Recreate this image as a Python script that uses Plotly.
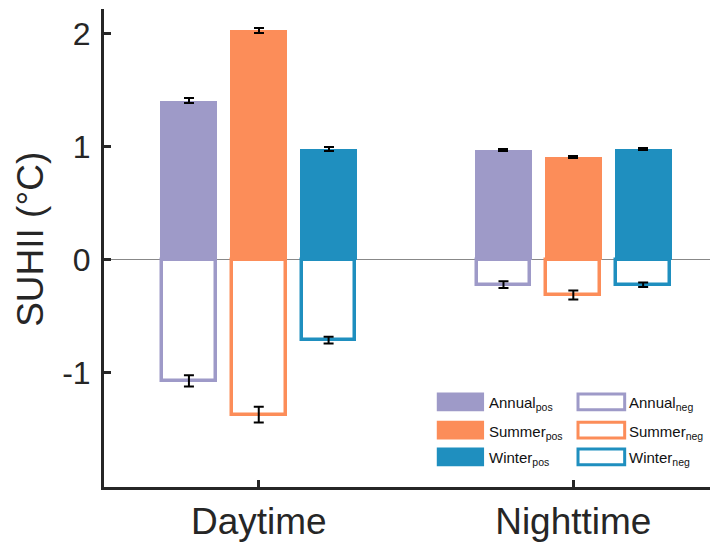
import plotly.graph_objects as go

groups = ["Daytime", "Nighttime"]
seasons = ["Annual", "Summer", "Winter"]
colors = ["#9E9AC8", "#FC8D59", "#1F8FBF"]
y_ticks = [-1, 0, 1, 2]
y_tick_text = ["-1", "0", "1", "2"]

pos_vals = {"Annual": [1.41, 0.97], "Summer": [2.03, 0.91], "Winter": [0.98, 0.98]}
pos_err = {"Annual": [0.02, 0.01], "Summer": [0.02, 0.01], "Winter": [0.02, 0.01]}
neg_vals = {"Annual": [-1.07, -0.22], "Summer": [-1.37, -0.31], "Winter": [-0.71, -0.22]}
neg_err = {"Annual": [0.05, 0.03], "Summer": [0.07, 0.04], "Winter": [0.03, 0.02]}

group_x = [1, 2]
offsets = [-0.222, 0.0, 0.222]
bar_w = 0.181
axis_col = "#262626"
FONT = "Liberation Sans, Arial, sans-serif"

fig = go.Figure()
for s, c, off in zip(seasons, colors, offsets):
    xs = [g + off for g in group_x]
    fig.add_trace(go.Bar(
        x=xs, y=neg_vals[s], width=bar_w - 0.01,
        marker=dict(color="white", line=dict(color=c, width=3.5)),
        error_y=dict(type="data", array=neg_err[s], color="black", thickness=2, width=5),
        name=s + " neg", showlegend=False))
for s, c, off in zip(seasons, colors, offsets):
    xs = [g + off for g in group_x]
    fig.add_trace(go.Bar(
        x=xs, y=pos_vals[s], width=bar_w,
        marker=dict(color=c, line=dict(width=0)),
        error_y=dict(type="data", array=pos_err[s], color="black", thickness=2, width=5),
        name=s + " pos", showlegend=False))

# manual legend (paper coordinates)
leg_rows = [0.178, 0.119, 0.063]
for i, (s, c) in enumerate(zip(seasons, colors)):
    yc = leg_rows[i]
    h = 0.039
    fig.add_shape(type="rect", xref="paper", yref="paper",
                  x0=0.542, x1=0.619, y0=yc - h / 2, y1=yc + h / 2,
                  fillcolor=c, line=dict(width=0))
    fig.add_shape(type="rect", xref="paper", yref="paper",
                  x0=0.772, x1=0.848, y0=yc - h / 2 + 0.003, y1=yc + h / 2 - 0.003,
                  fillcolor="white", line=dict(color=c, width=3))
    fig.add_annotation(xref="paper", yref="paper", x=0.623, y=yc - 0.004,
                       xanchor="left", yanchor="middle", showarrow=False,
                       text=s + "<sub>pos</sub>", font=dict(size=15, color="#111", family=FONT))
    fig.add_annotation(xref="paper", yref="paper", x=0.852, y=yc - 0.004,
                       xanchor="left", yanchor="middle", showarrow=False,
                       text=s + "<sub>neg</sub>", font=dict(size=15, color="#111", family=FONT))

# y-axis title as annotation
fig.add_annotation(xref="paper", yref="paper", x=-0.119, y=0.519,
                   xanchor="center", yanchor="middle", showarrow=False, textangle=-90,
                   text="SUHII (°C)", font=dict(size=37, color=axis_col, family=FONT))

fig.update_layout(
    width=710, height=537,
    margin=dict(l=96, r=0, t=1, b=58),
    paper_bgcolor="white", plot_bgcolor="white",
    barmode="overlay", bargap=0,
    font=dict(family=FONT, color=axis_col),
    xaxis=dict(range=[0.508, 2.46], tickvals=group_x, ticktext=groups,
               showline=True, linecolor=axis_col, linewidth=3,
               ticks="inside", ticklen=7, tickwidth=3, tickcolor=axis_col,
               tickfont=dict(size=37, color=axis_col), showgrid=False, zeroline=False),
    yaxis=dict(range=[-2.01, 2.22], tickvals=y_ticks, ticktext=y_tick_text,
               showline=True, linecolor=axis_col, linewidth=3,
               ticks="inside", ticklen=7, tickwidth=3, tickcolor=axis_col,
               ticklabelstandoff=4,
               tickfont=dict(size=32, color=axis_col), showgrid=False,
               zeroline=True, zerolinecolor="#888888", zerolinewidth=1),
)

fig.write_html("out.html")
